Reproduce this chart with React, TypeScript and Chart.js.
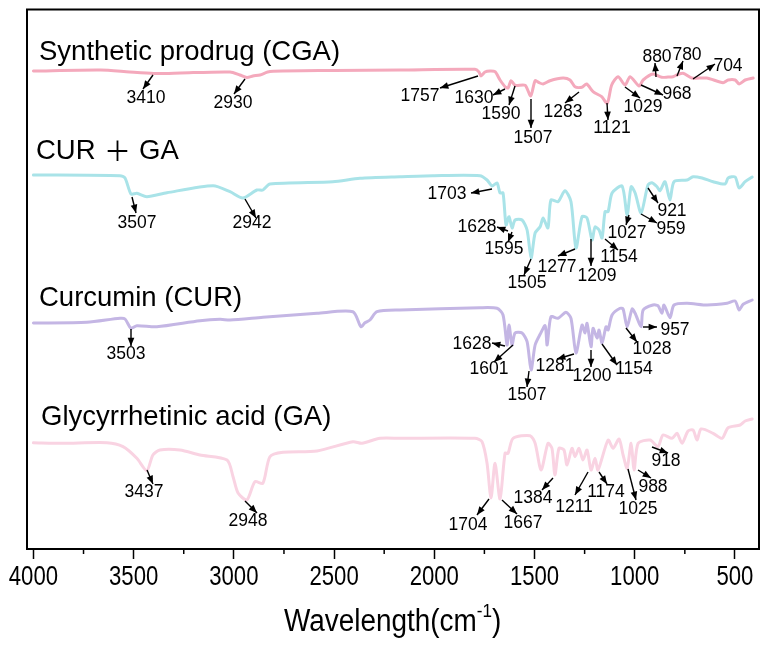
import { useEffect, useRef } from "react"
import { Chart, registerables } from "chart.js"

Chart.register(...registerables)

// FTIR traces. Values are the stacked (offset) intensity.
const cgaWave = [4000, 3665, 3520, 3400, 3340, 3265, 3019, 2970, 2935, 2905, 2870, 2820, 2500, 2171, 1797, 1777, 1767, 1747, 1722, 1697, 1672, 1647, 1632, 1617, 1597, 1547, 1519, 1497, 1477, 1457, 1423, 1358, 1323, 1298, 1264, 1240, 1208, 1165, 1137, 1115, 1083, 1048, 1023, 978, 958, 909, 865, 834, 809, 790, 759, 716, 641, 559, 534, 499, 479, 449, 409]
const cgaValues = [478, 479, 477, 475.5, 475.5, 476, 477, 474, 471.5, 473, 474, 477.5, 478.5, 479, 479.7, 477, 473, 477, 478, 477.3, 469, 462.3, 461, 468.3, 463.7, 463.7, 453, 468.3, 466.3, 465, 468.3, 471, 469, 462.3, 461.7, 465, 457.3, 452.3, 445.7, 464, 472.3, 464, 472.3, 463, 469, 475, 471.7, 472, 472.3, 474, 475.7, 471, 471, 466.3, 469, 469, 465, 469, 471]

const mixWave = [4000, 3568, 3543, 3513, 3484, 3434, 3334, 3104, 3019, 2955, 2885, 2855, 2820, 2506, 2371, 2171, 2007, 1772, 1737, 1712, 1687, 1672, 1657, 1642, 1627, 1612, 1597, 1562, 1537, 1517, 1497, 1472, 1457, 1433, 1418, 1383, 1348, 1318, 1293, 1263, 1238, 1213, 1198, 1178, 1163, 1148, 1133, 1113, 1063, 1038, 1018, 998, 968, 934, 914, 889, 874, 849, 824, 804, 739, 709, 664, 609, 549, 534, 499, 479, 449, 414]
const mixValues = [374, 373.3, 371, 355, 355.7, 352.3, 356.3, 363.3, 357.3, 351, 359, 359, 365, 367.3, 370.7, 372.3, 373.3, 373.3, 369, 363, 366, 356, 356, 324, 332.3, 321, 329, 329, 319, 291, 316, 322.3, 331, 321, 349, 347.3, 358.3, 347.3, 301, 332.3, 331, 309, 322, 319, 311, 337.3, 337.3, 356, 363, 334, 362.3, 356, 336, 364, 366.3, 362.3, 358.3, 367.3, 349, 367.3, 369, 372.3, 371, 367.3, 365, 371, 372, 361, 367.3, 372]

const curWave = [4000, 3733, 3568, 3543, 3513, 3484, 3384, 3169, 3069, 3019, 2855, 2585, 2406, 2366, 2346, 2321, 2286, 2171, 1772, 1687, 1657, 1637, 1627, 1612, 1597, 1562, 1537, 1517, 1497, 1472, 1447, 1437, 1418, 1383, 1343, 1318, 1293, 1263, 1248, 1238, 1218, 1208, 1188, 1178, 1163, 1143, 1133, 1113, 1073, 1058, 1038, 1013, 998, 968, 958, 909, 884, 864, 854, 824, 804, 739, 639, 539, 499, 479, 459, 414]
const curValues = [226, 226.7, 230.7, 230, 220.7, 223.3, 222.3, 228.3, 229.7, 229, 231.7, 235.7, 237.3, 222.3, 226.3, 229, 237.3, 239, 241.3, 240.7, 234, 204, 224, 204, 216, 216, 207.3, 179, 204, 214.7, 223.3, 204, 232.3, 230.7, 236.7, 230.7, 196, 224, 216, 225.7, 202.3, 220.7, 211, 219, 206, 222.3, 219, 234, 240.7, 240, 222.3, 240, 235.7, 222.3, 239, 244, 243.3, 235.7, 244, 231.3, 244, 245.7, 244, 245.7, 248, 239, 244.7, 249]

const gaWave = [4000, 3853, 3633, 3553, 3484, 3434, 3404, 3369, 3269, 3169, 3034, 3004, 2979, 2935, 2895, 2855, 2820, 2755, 2585, 2406, 2361, 2271, 2171, 1797, 1762, 1737, 1717, 1697, 1672, 1647, 1632, 1607, 1522, 1497, 1467, 1433, 1413, 1398, 1378, 1353, 1338, 1313, 1298, 1278, 1258, 1238, 1218, 1198, 1183, 1133, 1108, 1078, 1058, 1038, 1018, 1003, 983, 923, 884, 859, 814, 789, 764, 734, 709, 689, 669, 609, 564, 534, 474, 449, 414]
const gaValues = [106.3, 105.7, 106.3, 102.3, 90.7, 78.3, 94, 99, 99, 94, 89, 72.3, 56, 49, 67.3, 65.7, 92.3, 96.7, 98, 107.3, 105.7, 110.7, 110.7, 110.7, 107.3, 86, 51, 85.7, 50, 95.7, 95.7, 110.7, 113.3, 105.7, 79, 105.7, 100.7, 74, 100.7, 99, 84, 100.7, 92.3, 100.7, 89, 99, 79, 90.7, 79, 109, 100.7, 110, 94, 80.7, 105.7, 79, 105.7, 109, 102.3, 114, 110.7, 115.7, 105.7, 118, 119, 109, 120, 115.7, 110.7, 121.3, 124, 128, 130]

const seriesNames = ["Synthetic prodrug (CGA)", "CUR + GA", "Curcumin (CUR)", "Glycyrrhetinic acid (GA)"]
const seriesColors = ["#f4a9bc", "#a9e3e8", "#c4b6e4", "#f9d3e2"]

// [text, label x, label y, arrow tail x, tail y, head x, head y] in canvas pixels
const peakNotes: [string, number, number, number, number, number, number][] = [
  ["3410", 146, 98, 153, 75, 143, 89],
  ["2930", 233, 103, 245, 79, 234, 94],
  ["1757", 420, 96, 478, 76, 440, 88],
  ["1630", 474, 98, 505, 89, 493, 95],
  ["1590", 501, 114, 515, 86, 509, 105],
  ["1507", 533, 138, 531, 99, 531, 128],
  ["1283", 563, 112, 579, 92, 565, 103],
  ["1121", 612, 128, 607, 103, 608, 120],
  ["1029", 643, 107, 625, 87, 640, 98],
  ["968", 677, 94, 641, 85, 663, 95],
  ["880", 657, 57, 656, 77, 655, 63],
  ["780", 687, 55, 677, 76, 683, 61],
  ["704", 728, 66, 693, 79, 715, 64],

  ["3507", 137, 223, 132, 197, 136, 213],
  ["2942", 252, 223, 245, 199, 256, 218],
  ["1703", 447, 194, 492, 189, 471, 193],
  ["1628", 477, 227, 508, 231, 497, 227],
  ["1595", 504, 249, 512, 232, 508, 242],
  ["1505", 527, 283, 531, 259, 524, 275],
  ["1277", 557, 267, 575, 249, 558, 256],
  ["1209", 597, 276, 591, 239, 591, 266],
  ["1154", 619, 257, 605, 239, 618, 250],
  ["1027", 627, 233, 629, 215, 626, 225],
  ["959", 671, 229, 641, 214, 657, 223],
  ["921", 672, 211, 648, 188, 658, 203],

  ["3503", 126, 354, 131, 329, 131, 346],
  ["1628", 472, 344, 505, 346, 492, 343],
  ["1601", 489, 369, 513, 345, 494, 362],
  ["1507", 527, 395, 529, 371, 527, 387],
  ["1281", 555, 366, 574, 354, 557, 359],
  ["1200", 592, 376, 591, 350, 591, 367],
  ["1154", 634, 369, 602, 344, 617, 365],
  ["1028", 652, 349, 626, 328, 637, 342],
  ["957", 675, 330, 643, 327, 657, 327],

  ["3437", 144, 492, 147, 470, 153, 484],
  ["2948", 248, 521, 245, 501, 257, 513],
  ["1704", 468, 525, 489, 499, 477, 515],
  ["1667", 523, 523, 502, 500, 517, 514],
  ["1384", 533, 498, 553, 478, 542, 490],
  ["1211", 574, 507, 588, 472, 575, 495],
  ["1174", 606, 492, 599, 472, 607, 484],
  ["1025", 638, 509, 628, 469, 636, 500],
  ["988", 653, 487, 638, 470, 651, 478],
  ["918", 666, 461, 652, 447, 668, 453],
]

const sansFont = "'Liberation Sans', Arial, sans-serif"

function toPoints(xs: number[], ys: number[]) {
  return xs.map((x, i) => ({ x, y: ys[i] }))
}

const annotations = {
  id: "annotations",
  afterDraw(chart: Chart) {
    const { ctx, chartArea, scales } = chart
    ctx.save()

    // frame around the plot
    ctx.strokeStyle = "#000"
    ctx.lineWidth = 2
    ctx.strokeRect(chartArea.left, chartArea.top, chartArea.right - chartArea.left, chartArea.bottom - chartArea.top)

    ctx.fillStyle = "#000"
    ctx.textBaseline = "middle"

    // minor ticks are shorter, tick labels are squeezed like in the figure
    ctx.lineWidth = 1.5
    ctx.textAlign = "center"
    scales.x.ticks.forEach((tick) => {
      const px = scales.x.getPixelForValue(tick.value)
      if (tick.value % 500 !== 0) {
        ctx.beginPath()
        ctx.moveTo(px, chartArea.bottom)
        ctx.lineTo(px, chartArea.bottom + 5)
        ctx.stroke()
        return
      }
      ctx.save()
      ctx.translate(px, 578)
      ctx.scale(0.82, 1)
      ctx.font = `27px ${sansFont}`
      ctx.fillText(String(tick.value), 0, 0)
      ctx.restore()
    })

    // series names
    ctx.textAlign = "left"
    ctx.font = `27.5px ${sansFont}`
    ctx.fillText(seriesNames[0], 39, 52)
    ctx.fillText("CUR", 36, 151)
    ctx.fillText("GA", 139, 151)
    ctx.fillText(seriesNames[2], 39, 298)
    ctx.fillText(seriesNames[3], 41, 417)
    ctx.font = "27px 'Noto Sans CJK SC'"
    ctx.fillText("＋", 104, 151)

    // peak labels and arrows
    ctx.font = `17.5px ${sansFont}`
    ctx.textAlign = "center"
    ctx.lineWidth = 1.4
    peakNotes.forEach(([text, lx, ly, x1, y1, x2, y2]) => {
      ctx.fillText(text, lx, ly)
      ctx.beginPath()
      ctx.moveTo(x1, y1)
      ctx.lineTo(x2, y2)
      ctx.stroke()
      const a = Math.atan2(y2 - y1, x2 - x1)
      ctx.beginPath()
      ctx.moveTo(x2, y2)
      ctx.lineTo(x2 - 9 * Math.cos(a - 0.38), y2 - 9 * Math.sin(a - 0.38))
      ctx.lineTo(x2 - 9 * Math.cos(a + 0.38), y2 - 9 * Math.sin(a + 0.38))
      ctx.closePath()
      ctx.fill()
    })

    // axis title, superscript drawn apart
    ctx.translate(284, 622)
    ctx.scale(0.9, 1)
    ctx.textAlign = "left"
    ctx.font = `31px ${sansFont}`
    const main = "Wavelength(cm"
    ctx.fillText(main, 0, 0)
    const w = ctx.measureText(main).width
    ctx.font = `19px ${sansFont}`
    ctx.fillText("-1", w, -10)
    const sw = ctx.measureText("-1").width
    ctx.font = `31px ${sansFont}`
    ctx.fillText(")", w + sw, 0)

    ctx.restore()
  },
}

export default function App() {
  const canvasRef = useRef<HTMLCanvasElement | null>(null)

  useEffect(() => {
    if (!canvasRef.current) return

    const chart = new Chart(canvasRef.current, {
      type: "line",
      data: {
        datasets: [
          { label: seriesNames[0], data: toPoints(cgaWave, cgaValues), borderColor: seriesColors[0] },
          { label: seriesNames[1], data: toPoints(mixWave, mixValues), borderColor: seriesColors[1] },
          { label: seriesNames[2], data: toPoints(curWave, curValues), borderColor: seriesColors[2] },
          { label: seriesNames[3], data: toPoints(gaWave, gaValues), borderColor: seriesColors[3] },
        ],
      },
      options: {
        responsive: false,
        animation: false,
        layout: { padding: { left: 27, right: 11, top: 9.5, bottom: 0 } },
        elements: {
          line: { borderWidth: 3, tension: 0.25, borderJoinStyle: "round", borderCapStyle: "round" },
          point: { radius: 0 },
        },
        plugins: {
          legend: { display: false },
          tooltip: { enabled: false },
        },
        scales: {
          x: {
            type: "linear",
            reverse: true,
            min: 380,
            max: 4032,
            afterFit: (scale) => {
              scale.height = 97
            },
            grid: {
              drawOnChartArea: false,
              tickLength: 10,
              tickWidth: 1.5,
              tickColor: (c) => (c.tick && c.tick.value % 500 === 0 ? "#000" : "transparent"),
            },
            border: { display: false },
            ticks: {
              stepSize: 250,
              includeBounds: false,
              autoSkip: false,
              maxRotation: 0,
              color: "transparent",
              font: { family: sansFont, size: 10 },
            },
          },
          y: {
            display: false,
            min: 0,
            max: 539.5,
          },
        },
      },
      plugins: [annotations],
    })

    return () => chart.destroy()
  }, [])

  return (
    <div style={{ position: "absolute", left: 0, top: 0, width: 770, height: 646, background: "#fff" }}>
      <canvas ref={canvasRef} width={770} height={646} />
    </div>
  )
}
